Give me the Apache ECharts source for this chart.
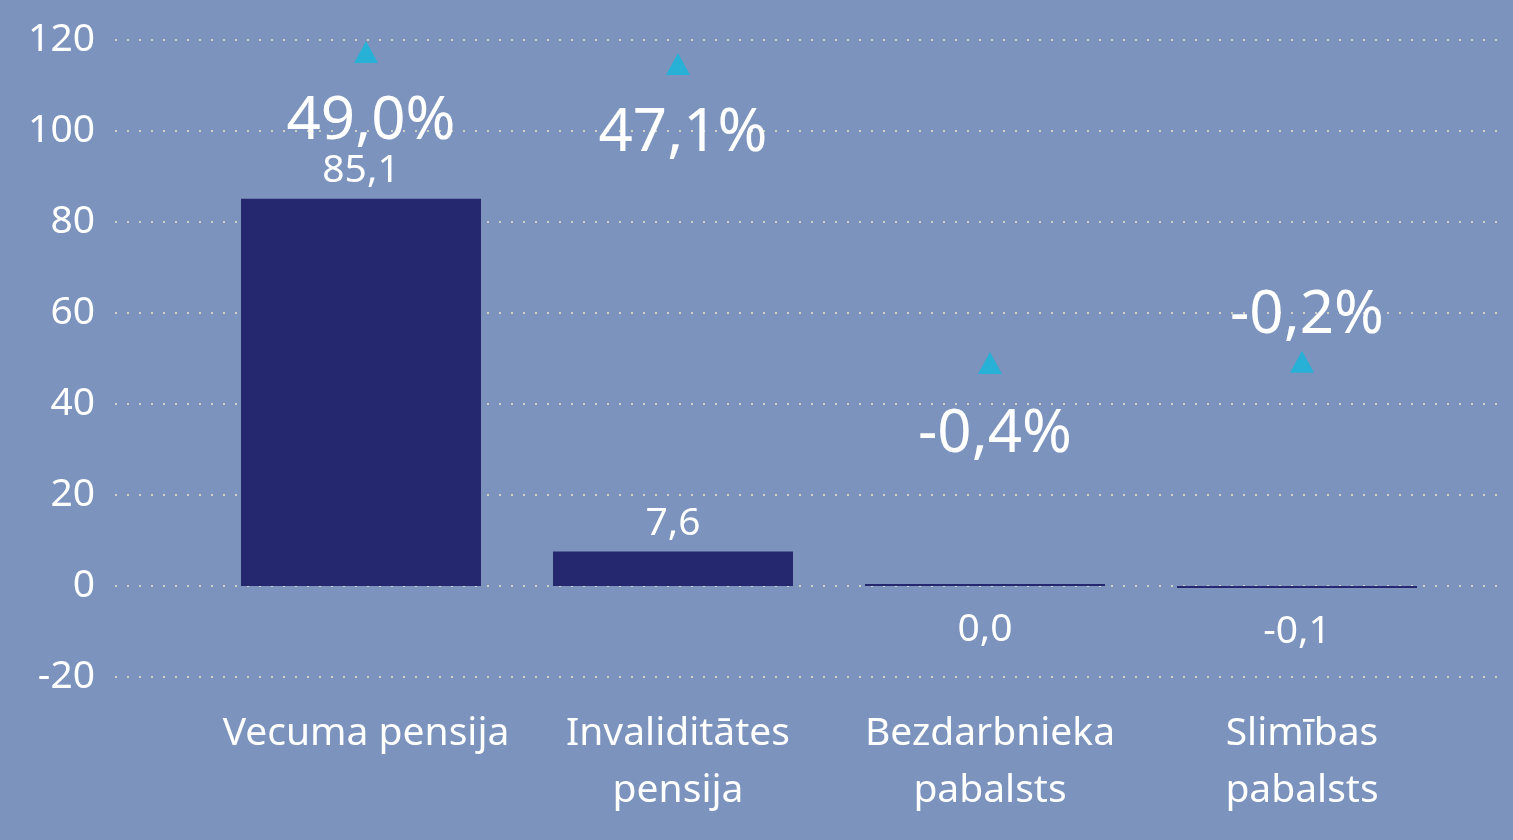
<!DOCTYPE html>
<html>
<head>
<meta charset="utf-8">
<script src="https://cdn.jsdelivr.net/npm/echarts@6/dist/echarts.min.js"></script>
<style>
  html, body { margin: 0; padding: 0; background: #7b93bd; }
  #chart { width: 1513px; height: 840px; }
</style>
</head>
<body>
<div id="chart"></div>
<script>
const categories = ['Vecuma pensija', 'Invaliditātes\npensija', 'Bezdarbnieka\npabalsts', 'Slimības\npabalsts'];
const amounts = [85.1, 7.6, 0.0, -0.1];
const changes = [49.0, 47.1, -0.4, -0.2];
const yTicks = { min: -20, max: 120, interval: 20 };

const FONT = 'Noto Sans';
const fmt = (v) => v.toFixed(1).replace('.', ',');

// amount labels sit above for positive bars, below for zero/negative
const barData = amounts.map((v) => ({
  value: v,
  label: { position: v > 0 ? 'top' : 'bottom', distance: v > 0 ? 8 : 24 }
}));

// change labels: under the triangle, except the last one which sits above
const changeOffsets = [70, 70, 72, -46];
const changeData = changes.map((v, i) => ({
  value: v,
  label: { offset: [5, changeOffsets[i]] }
}));

const chart = echarts.init(document.getElementById('chart'));
chart.setOption({
  backgroundColor: '#7b93bd',
  animation: false,
  grid: [
    { left: 115, right: 8, top: 40, bottom: 163 },
    { left: 205, right: 60, top: 40, bottom: 163 }
  ],
  xAxis: [
    { gridIndex: 0, type: 'value', show: false },
    {
      gridIndex: 1,
      type: 'category',
      data: categories,
      axisLine: { show: false, onZero: false },
      axisTick: { show: false },
      axisLabel: {
        interval: 0,
        color: '#ffffff',
        fontFamily: FONT,
        fontSize: 39,
        lineHeight: 57,
        margin: 28,
        padding: [0, 0, 0, 10]
      }
    }
  ],
  yAxis: [
    {
      gridIndex: 0,
      type: 'value',
      min: yTicks.min,
      max: yTicks.max,
      interval: yTicks.interval,
      axisLine: { show: false },
      axisTick: { show: false },
      axisLabel: { color: '#ffffff', fontFamily: FONT, fontSize: 39, margin: 20 },
      splitLine: { lineStyle: { color: '#cfd0c6', width: 2, type: [2, 10] } }
    },
    {
      gridIndex: 1,
      type: 'value',
      min: yTicks.min,
      max: yTicks.max,
      show: false,
      splitLine: { show: false }
    },
    {
      gridIndex: 1,
      type: 'value',
      min: -50.3,
      max: 50.9,
      show: false,
      splitLine: { show: false }
    }
  ],
  series: [
    {
      type: 'bar',
      xAxisIndex: 1,
      yAxisIndex: 1,
      data: barData,
      barWidth: 240,
      barMinHeight: 2,
      itemStyle: { color: '#26286f' },
      label: {
        show: true,
        color: '#ffffff',
        fontFamily: FONT,
        fontSize: 39,
        formatter: (p) => fmt(p.value)
      }
    },
    {
      type: 'scatter',
      xAxisIndex: 1,
      yAxisIndex: 2,
      data: changeData,
      symbol: 'triangle',
      symbolSize: [24, 22],
      symbolOffset: [5, 0],
      itemStyle: { color: '#27b1d6', opacity: 1 },
      z: 3,
      label: {
        show: true,
        position: 'inside',
        color: '#ffffff',
        textBorderWidth: 0,
        fontFamily: FONT,
        fontSize: 60,
        formatter: (p) => fmt(p.value) + '%'
      }
    }
  ]
});
</script>
</body>
</html>
